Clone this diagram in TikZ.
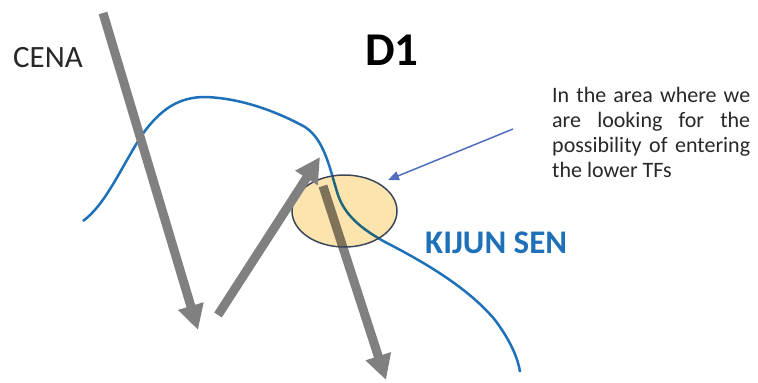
\documentclass[tikz,border=0pt]{standalone}
\usepackage{fontspec}
\setmainfont{Carlito}
\usetikzlibrary{arrows.meta,shapes.geometric}
\definecolor{arrgray}{RGB}{128,128,128}
\definecolor{kijun}{RGB}{30,113,184}
\definecolor{ellfill}{RGB}{252,228,175}
\definecolor{ellline}{RGB}{60,70,90}
\definecolor{arrtint}{RGB}{126,114,88}
\definecolor{kijuntint}{RGB}{30,101,126}
\definecolor{notearrow}{RGB}{80,110,190}
\definecolor{txt}{RGB}{40,40,40}
\begin{document}
\begin{tikzpicture}[x=1pt,y=-1pt,
  bigarrow/.style={draw=arrgray, line width=9pt, -{Triangle[width=25pt,length=25pt]}},
  kcurve/.style={line width=2.5pt},
  notetext/.style={anchor=base west, inner sep=0pt, text=txt, font=\fontsize{22}{25}\selectfont},
  lbl/.style={anchor=base west, inner sep=0pt},
  zonefill/.style={ellipse, fill=ellfill, minimum width=105pt, minimum height=72pt, inner sep=0pt},
  zoneline/.style={ellipse, draw=ellline, line width=1.5pt, minimum width=105pt, minimum height=72pt, inner sep=0pt}
]
\useasboundingbox (0,0) rectangle (758,383);
\fill[white] (0,0) rectangle (758,383);

\def\kijunpath{(83,221) .. controls (105,205) and (120,170) .. (140,138)
  .. controls (160,108) and (180,97) .. (205,97)
  .. controls (240,98) and (276,111) .. (305,127)
  .. controls (325,140) and (330,170) .. (338,195)
  .. controls (345,215) and (360,228) .. (385,242)
  .. controls (430,265) and (470,290) .. (495,320)
  .. controls (510,340) and (518,358) .. (520,372)}

% kijun sen curve
\draw[kcurve, draw=kijun] \kijunpath;

% arrows
\coordinate (a1s) at (103,13);
\coordinate (a1e) at (198,330);
\coordinate (a2s) at (218,315);
\coordinate (a2e) at (320,157);
\coordinate (a3s) at (323,186);
\coordinate (a3e) at (386,380);
\draw[bigarrow] (a1s) -- (a1e);
\draw[bigarrow] (a3s) -- (a3e);

% highlighted zone, with the parts beneath it tinted
\node[zonefill] (zonebg) at (344.5,211) {};
\begin{scope}
  \clip (344.5,211) ellipse [x radius=52.5pt, y radius=36pt];
  \draw[kcurve, draw=kijuntint] \kijunpath;
  \draw[bigarrow, draw=arrtint] (a3s) -- (a3e);
\end{scope}
\node[zoneline] (zone) at (344.5,211) {};

\draw[bigarrow] (a2s) -- (a2e);

% labels
\node[lbl, text=txt, font=\fontsize{31}{31}\selectfont] (cena) at (13,67) {CENA};
\node[lbl, text=black, font=\fontsize{47}{47}\selectfont\bfseries] (d1) at (365,65) {D1};
\node[lbl, text=kijun, font=\fontsize{33}{33}\selectfont\bfseries] (ks) at (425,253) {KIJUN SEN};

\node[notetext] (n1) at (552,102) {\makebox[198pt][s]{In the area where we}};
\node[notetext] (n2) at (552,127) {\makebox[198pt][s]{are looking for the}};
\node[notetext] (n3) at (552,152) {\makebox[198pt][s]{possibility of entering}};
\node[notetext] (n4) at (552,177) {the lower TFs};

\coordinate (ns) at (513,129);
\coordinate (nt) at (388,180);
\draw[draw=notearrow, line width=1.5pt, -{Triangle[width=9pt,length=11pt]}] (ns) -- (nt);
\end{tikzpicture}
\end{document}
